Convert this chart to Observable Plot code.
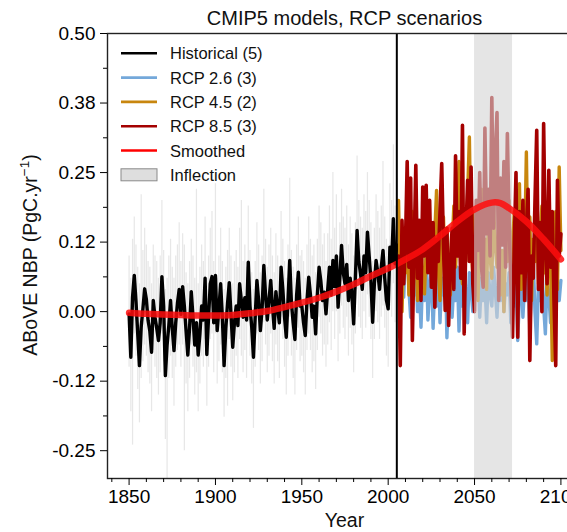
<!DOCTYPE html>
<html><head><meta charset="utf-8">
<script src="https://cdn.jsdelivr.net/npm/d3@7"></script>
<script src="https://cdn.jsdelivr.net/npm/@observablehq/plot@0.6"></script>
<style>
html,body{margin:0;padding:0;background:#fff;overflow:hidden;}
#chart{position:relative;width:567px;height:532px;}
</style></head><body><div id="chart"></div>
<script>
// ---------- data ----------
const histStart = 1850;
const histMean = [
 -0.004,-0.082,0.026,0.065,0.018,-0.040,-0.097,-0.028,0.005,0.041,
 0.022,-0.016,-0.035,-0.073,0.020,-0.010,-0.030,-0.052,-0.020,0.063,
 0.010,-0.115,-0.060,-0.025,0.020,-0.030,-0.070,-0.020,0.015,0.040,
 -0.005,0.045,0.010,-0.035,-0.078,-0.030,0.036,-0.010,-0.060,-0.020,
 -0.078,-0.040,0.010,-0.015,0.060,-0.077,-0.010,0.050,0.063,-0.020,
 0.065,-0.034,0.005,0.050,-0.010,-0.097,-0.030,0.015,0.052,-0.005,
 -0.064,-0.020,0.010,-0.025,0.050,0.020,-0.010,0.025,-0.015,0.089,
 0.010,-0.028,-0.082,-0.010,0.056,0.020,-0.034,0.005,0.083,0.030,
 -0.015,0.020,0.056,0.010,-0.030,0.036,0.005,-0.020,0.080,0.040,
 -0.010,-0.046,0.020,0.092,0.015,-0.020,-0.050,0.030,0.071,0.010,
 0.010,-0.020,-0.043,0.020,0.062,0.030,-0.010,0.010,-0.040,0.030,
 0.080,0.055,0.020,0.035,-0.004,0.040,0.080,0.030,0.092,0.045,
 0.100,0.008,0.060,0.119,0.070,0.050,0.085,0.020,0.060,0.030,
 -0.022,0.060,0.146,0.090,0.068,0.040,0.100,0.070,0.143,0.100,
 0.056,-0.019,0.050,0.092,0.070,0.040,0.080,0.110,0.060,0.020,
 0.005,0.116,0.090,0.167,0.086,0.120
];
const histHi = [
 0.10,0.06,0.13,0.17,0.12,0.08,0.05,0.21,0.11,0.15,
 0.12,0.09,0.08,0.05,0.12,0.10,0.09,0.06,0.10,0.20,
 0.11,0.04,0.06,0.10,0.13,0.08,0.06,0.10,0.12,0.16,
 0.09,0.14,0.12,0.07,0.05,0.09,0.13,0.10,0.06,0.22,
 0.05,0.08,0.12,0.09,0.17,0.06,0.10,0.15,0.18,0.09,
 0.23,0.06,0.10,0.15,0.09,0.04,0.08,0.11,0.15,0.10,
 0.05,0.09,0.11,0.08,0.15,0.20,0.09,0.12,0.08,0.19,
 0.11,0.07,0.04,0.09,0.16,0.12,0.07,0.10,0.22,0.13,
 0.08,0.12,0.15,0.10,0.07,0.14,0.10,0.08,0.18,0.13,
 0.09,0.06,0.12,0.24,0.11,0.08,0.06,0.12,0.17,0.10,
 0.11,0.09,0.06,0.12,0.17,0.13,0.10,0.12,0.07,0.13,
 0.19,0.16,0.12,0.14,0.09,0.14,0.19,0.13,0.25,0.15,
 0.21,0.10,0.16,0.22,0.17,0.15,0.19,0.12,0.17,0.14,
 0.10,0.16,0.28,0.20,0.17,0.15,0.21,0.18,0.25,0.20,
 0.16,0.09,0.15,0.21,0.18,0.15,0.19,0.27,0.17,0.13,
 0.12,0.23,0.20,0.30,0.19,0.24
];
const histLo = [
 -0.10,-0.18,-0.24,-0.04,-0.08,-0.14,-0.20,-0.12,-0.09,-0.06,
 -0.08,-0.11,-0.13,-0.18,-0.07,-0.10,-0.12,-0.15,-0.11,-0.04,
 -0.09,-0.23,-0.30,-0.12,-0.08,-0.12,-0.17,-0.10,-0.07,-0.06,
 -0.10,-0.06,-0.25,-0.13,-0.18,-0.12,-0.06,-0.10,-0.15,-0.11,
 -0.18,-0.13,-0.08,-0.10,-0.05,-0.17,-0.10,-0.05,-0.04,-0.11,
 -0.04,-0.13,-0.09,-0.06,-0.11,-0.19,-0.12,-0.17,-0.05,-0.10,
 -0.16,-0.11,-0.08,-0.12,-0.05,-0.08,-0.11,-0.07,-0.12,-0.02,
 -0.08,-0.13,-0.21,-0.10,-0.04,-0.07,-0.13,-0.09,-0.02,-0.06,
 -0.11,-0.08,-0.04,-0.09,-0.13,-0.06,-0.09,-0.12,-0.01,-0.05,
 -0.10,-0.15,-0.08,-0.01,-0.08,-0.12,-0.15,-0.07,-0.03,-0.09,
 -0.08,-0.11,-0.15,-0.07,-0.04,-0.07,-0.11,-0.09,-0.14,-0.07,
 -0.01,-0.04,-0.08,-0.06,-0.10,-0.06,-0.02,-0.07,0.00,-0.05,
 0.00,-0.09,-0.04,0.01,-0.03,-0.05,-0.01,-0.08,-0.03,-0.06,
 -0.11,-0.04,0.04,-0.01,-0.03,-0.05,0.00,-0.03,0.03,-0.01,
 -0.05,-0.12,-0.05,0.00,-0.02,-0.05,-0.01,0.01,-0.03,-0.08,
 -0.10,0.01,-0.01,0.05,-0.02,0.02
];
const futureStart = 2006;
const rcp26 = [
 0.05,0.02,0.08,0.026,0.10,0.15,0.04,-0.01,0.06,0.03,
 0.09,0.00,0.05,-0.028,0.07,0.02,0.11,-0.015,0.04,0.08,
 -0.03,0.05,0.01,0.09,-0.02,0.06,0.03,0.10,-0.047,0.04,
 0.07,-0.01,0.05,0.02,0.08,-0.035,0.06,0.01,0.09,0.03,
 -0.02,0.07,0.04,0.00,0.08,0.03,0.09,-0.01,0.06,0.02,
 0.05,-0.02,0.07,0.03,0.01,0.08,0.04,-0.01,0.06,0.02,
 0.09,0.00,0.05,0.03,0.07,-0.02,0.04,0.01,0.06,-0.052,
 0.03,0.08,-0.01,0.05,0.02,0.07,-0.03,0.04,0.09,0.00,
 -0.058,0.05,0.02,0.08,0.01,-0.04,0.06,0.03,-0.02,0.07,
 0.04,0.00,0.05,0.02,0.056
];
const rcp45 = [
 0.20,0.04,0.00,0.12,0.07,0.15,0.03,0.10,0.18,0.06,
 0.12,0.02,0.09,0.16,0.04,0.032,0.11,0.19,0.07,0.13,
 0.05,0.14,0.218,0.08,0.02,0.12,0.17,0.06,0.15,0.09,
 0.03,0.11,0.19,0.08,0.14,0.27,0.10,0.05,0.16,0.09,
 0.21,0.314,0.12,0.07,0.18,0.11,0.02,0.15,0.22,0.08,
 0.13,0.04,0.17,0.10,0.06,0.19,0.12,0.08,0.15,0.03,
 0.11,0.00,0.14,0.09,0.20,0.07,0.12,0.18,0.06,0.10,
 0.23,0.04,0.15,0.11,0.287,0.08,0.17,0.02,0.13,0.09,
 0.21,0.05,0.14,0.19,0.07,0.12,0.03,0.16,0.10,-0.088,
 0.08,0.18,0.04,0.26,0.11
];
const rcp85 = [
 0.10,-0.097,0.164,0.05,0.12,0.27,0.08,0.24,-0.052,0.11,
 0.263,0.06,0.164,0.02,0.224,0.10,0.227,0.07,0.20,0.044,
 0.16,0.008,0.13,0.09,0.18,0.266,0.12,0.002,0.15,-0.025,
 0.08,0.15,0.04,0.28,0.10,0.18,0.06,0.335,-0.04,0.14,
 0.236,0.09,0.26,0.05,0.00,0.20,0.11,0.25,0.08,0.044,
 0.33,0.14,0.22,0.10,0.385,0.15,0.28,0.358,0.02,0.24,
 0.12,0.27,0.08,0.32,0.16,0.05,-0.046,0.12,0.25,-0.046,
 0.18,0.07,0.20,0.02,0.15,0.22,-0.088,0.10,0.06,0.20,
 0.326,0.04,0.16,0.00,0.338,0.12,0.05,0.254,0.08,0.18,
 0.02,-0.097,0.236,0.10,0.14
];
const smoothYears = [1850,1860,1870,1880,1890,1900,1910,1920,1930,1940,1950,1960,1970,1980,1990,2000,2010,2020,2030,2040,2050,2060,2065,2070,2080,2090,2100];
const smoothVals  = [-0.002,-0.004,-0.005,-0.006,-0.007,-0.007,-0.006,-0.003,0.001,0.008,0.016,0.025,0.036,0.049,0.064,0.078,0.094,0.112,0.136,0.162,0.184,0.196,0.195,0.186,0.162,0.130,0.094];
const inflection = [2050, 2072];
const historicalEnd = 2005;
const legendLabels = ["Historical (5)","RCP 2.6 (3)","RCP 4.5 (2)","RCP 8.5 (3)","Smoothed","Inflection"];
const xTicks = [1850,1900,1950,2000,2050,2100];
const xMinor = [1840,1860,1870,1880,1890,1910,1920,1930,1940,1960,1970,1980,1990,2010,2020,2030,2040,2060,2070,2080,2090,2110];
const yTicks = [-0.25,-0.125,0,0.125,0.25,0.375,0.5];
const yTickLabels = ["-0.25","-0.12","0.00","0.12","0.25","0.38","0.50"];
const yMinor = [-0.1875,-0.0625,0.0625,0.1875,0.3125,0.4375];

// ---------- styles ----------
const C = {hist:"#000000", r26:"#74a8da", r45:"#c8860e", r85:"#a40000", smooth:"#ff0d0d", band:"#d3d3d3", spread:"#c4c4c4"};
const FONT = "'Liberation Sans', Arial, sans-serif";

const hist = histMean.map((v,i)=>({year: histStart+i, v, lo: histLo[i], hi: histHi[i]}));
const fut = (arr)=>arr.map((v,i)=>({year: futureStart+i, v}));
const smooth = smoothYears.map((y,i)=>({year:y, v:smoothVals[i]}));

const W = 567, H = 532;
const plot = Plot.plot({
  width: W, height: H,
  marginTop: 33, marginBottom: 54, marginLeft: 107, marginRight: -15,
  style: {fontFamily: FONT, fontSize: "19px", color: "#000", background: "#fff", overflow: "hidden"},
  x: {domain: [1837.5, 2112.5]},
  y: {domain: [-0.30, 0.50]},
  marks: [
    Plot.ruleX(hist, {x:"year", y1:"lo", y2:"hi", stroke:C.spread, strokeOpacity:0.4, strokeWidth:1.2}),
    Plot.line(hist, {x:"year", y:"v", stroke:C.hist, strokeWidth:3.4}),
    Plot.line(fut(rcp26), {x:"year", y:"v", stroke:C.r26, strokeWidth:3.4}),
    Plot.line(fut(rcp45), {x:"year", y:"v", stroke:C.r45, strokeWidth:3.4}),
    Plot.line(fut(rcp85), {x:"year", y:"v", stroke:C.r85, strokeWidth:3.6}),
    Plot.barX([inflection], {x1: d=>d[0], x2: d=>d[1], fill:C.band, fillOpacity:0.6}),
    Plot.line(smooth, {x:"year", y:"v", stroke:C.smooth, strokeOpacity:0.85, strokeWidth:6.5, curve:"catmull-rom"}),
    Plot.ruleX([historicalEnd], {stroke:"#000", strokeWidth:2}),
    Plot.frame({stroke:"#222", strokeWidth:1.4}),
    Plot.axisX({ticks:xTicks, tickSize:7, tickPadding:4, tickFormat:d=>String(d), label:null, fontSize:19}),
    Plot.axisX({ticks:xMinor, tickSize:4, tickFormat:()=>"", label:null}),
    Plot.axisY({ticks:yTicks, tickSize:7, tickPadding:5, tickFormat:d=>yTickLabels[yTicks.indexOf(d)], label:null, fontSize:19}),
    Plot.axisY({ticks:yMinor, tickSize:4, tickFormat:()=>"", label:null})
  ]
});
document.getElementById("chart").appendChild(plot);

// ---------- annotations: title, axis labels, legend ----------
const svg = d3.select(plot);
svg.append("text").attr("x", 344.5).attr("y", 25).attr("text-anchor","middle")
  .attr("font-size", 20).attr("font-family", FONT).attr("fill","#111")
  .text("CMIP5 models, RCP scenarios");
svg.append("text").attr("x", 344.5).attr("y", 527).attr("text-anchor","middle")
  .attr("font-size", 19.5).attr("font-family", FONT).attr("fill","#111").text("Year");
const yl = svg.append("text").attr("transform","translate(37,255) rotate(-90)").attr("text-anchor","middle")
  .attr("font-size", 19.5).attr("font-family", FONT).attr("fill","#111");
yl.append("tspan").text("ABoVE NBP (PgC.yr");
yl.append("tspan").attr("font-size",13.5).attr("dy",-8).text("\u22121");
yl.append("tspan").attr("dy",8).text(")");

const lg = svg.append("g").attr("font-family", FONT).attr("font-size", 16.5).attr("text-anchor","start");
const legendColors = [C.hist, C.r26, C.r45, C.r85, "#ff0000", null];
legendLabels.forEach((lab, i) => {
  const cy = 53.3 + i*24.3;
  if (legendColors[i]) {
    lg.append("line").attr("x1",121).attr("x2",157).attr("y1",cy).attr("y2",cy)
      .attr("stroke", legendColors[i]).attr("stroke-width", 2.6);
  } else {
    lg.append("rect").attr("x",121).attr("y",cy-6).attr("width",36).attr("height",12)
      .attr("fill","#dedede").attr("stroke","#8a8a8a").attr("stroke-width",1);
  }
  lg.append("text").attr("x",170).attr("y",cy+6).attr("text-anchor","start").attr("fill","#111").text(lab);
});
</script></body></html>
